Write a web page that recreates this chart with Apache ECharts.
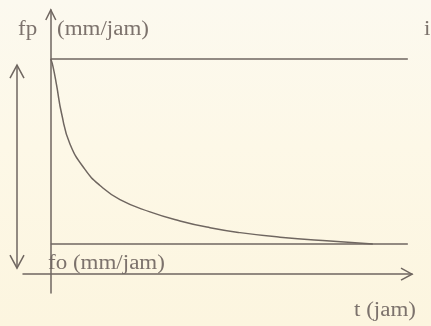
<!DOCTYPE html>
<html>
<head>
<meta charset="utf-8">
<script src="https://cdn.jsdelivr.net/npm/echarts@6/dist/echarts.min.js"></script>
<style>
  html, body { margin: 0; padding: 0; }
  #chart {
    width: 431px; height: 326px;
    background: linear-gradient(180deg, #fcf9ef 0%, #fdf8e7 45%, #fcf5df 100%);
  }
</style>
</head>
<body>
<div id="chart"></div>
<script>
// Horton infiltration curve: capacity decays from fp toward fo over time.
const timeJam = [0, 0.08, 0.21, 0.39, 0.69, 1.23, 1.77, 2.49, 3.57, 4.65, 5.73, 6.81, 8.25, 10.05, 11.59];
const infiltration = [11.4, 11.0, 10.0, 8.5, 6.9, 5.55, 4.7, 3.95, 3.3, 2.82, 2.46, 2.2, 1.96, 1.75, 1.6];
const fpLevel = 11.4;   // initial capacity (i)
const foLevel = 1.6;    // final constant capacity
const levelEnd = 12.85; // horizontal reference lines run to here

const axisLabels = {
  fp: 'fp',
  fpUnit: '(mm/jam)',
  fo: 'fo (mm/jam)',
  t: 't (jam)',
  i: 'i'
};

const ink = '#6f6660';
const textInk = '#7c726c';
const serif = '"Liberation Serif", "DejaVu Serif", serif';

const chart = echarts.init(document.getElementById('chart'), null, { renderer: 'canvas' });

const lineStyle = { color: ink, width: 1.5 };

chart.setOption({
  backgroundColor: 'transparent',
  animation: false,
  grid: { left: 23, right: 19, top: 10, bottom: 33, containLabel: false },
  xAxis: {
    type: 'value', min: -1, max: 13,
    axisLine: { show: true, onZero: true, lineStyle: { color: ink, width: 1.5 } },
    axisTick: { show: false }, axisLabel: { show: false }, splitLine: { show: false }
  },
  yAxis: {
    type: 'value', min: -1, max: 14,
    axisLine: { show: true, onZero: true, lineStyle: { color: ink, width: 1.5 } },
    axisTick: { show: false }, axisLabel: { show: false }, splitLine: { show: false }
  },
  series: [
    {
      name: 'fp', type: 'line', showSymbol: false, silent: true,
      data: [[0, fpLevel], [levelEnd, fpLevel]], lineStyle
    },
    {
      name: 'fo', type: 'line', showSymbol: false, silent: true,
      data: [[0, foLevel], [levelEnd, foLevel]], lineStyle
    },
    {
      name: 'f(t)', type: 'line', showSymbol: false, silent: true, smooth: 0.5,
      data: timeJam.map((t, k) => [t, infiltration[k]]), lineStyle
    }
  ]
});

// Arrowheads and text placed from axis coordinates.
const px = (x, y) => chart.convertToPixel({ gridIndex: 0 }, [x, y]);
const [x0, y0] = px(0, 0);
const [xEnd] = px(13, 0);
const [, yTop] = px(0, 14);
const [, yFp] = px(0, fpLevel);
const [, yFo] = px(0, foLevel);

const chevron = (pts) => ({
  type: 'polyline', silent: true,
  shape: { points: pts },
  style: { stroke: ink, lineWidth: 1.5, fill: null }
});

const dblX = 17;
const dblTop = yFp + 6;
const dblBot = y0 - 6;

const txt = (text, x, y, size, align) => ({
  type: 'text', silent: true, x, y, scaleX: 1.15,
  style: { text, font: `${size}px ${serif}`, fill: textInk, align: align || 'left', verticalAlign: 'middle' }
});

chart.setOption({
  graphic: [
    // y-axis arrowhead
    chevron([[x0 - 5, yTop + 10], [x0, yTop], [x0 + 5, yTop + 10]]),
    // x-axis arrowhead
    chevron([[xEnd - 11, y0 - 6], [xEnd, y0], [xEnd - 11, y0 + 6]]),
    // left double-headed arrow between fp and fo
    { type: 'line', silent: true, shape: { x1: dblX, y1: dblTop, x2: dblX, y2: dblBot },
      style: { stroke: ink, lineWidth: 1.5 } },
    chevron([[dblX - 7, dblTop + 13], [dblX, dblTop], [dblX + 7, dblTop + 13]]),
    chevron([[dblX - 7, dblBot - 13], [dblX, dblBot], [dblX + 7, dblBot - 13]]),
    // labels
    txt(axisLabels.fp, 18, 30, 20),
    txt(axisLabels.fpUnit, 57, 30, 20),
    txt(axisLabels.i, 424, 30, 20),
    txt(axisLabels.fo, 48, yFo + 20, 20),
    txt(axisLabels.t, 354, 311, 20)
  ]
});
</script>
</body>
</html>
